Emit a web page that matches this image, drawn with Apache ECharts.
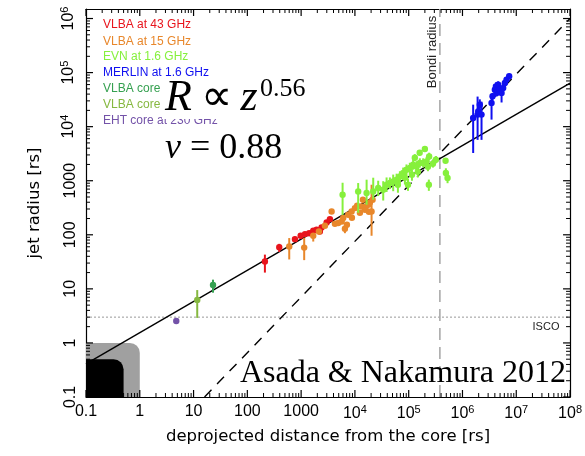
<!DOCTYPE html>
<html>
<head>
<meta charset="utf-8">
<script src="https://cdn.jsdelivr.net/npm/echarts@6/dist/echarts.min.js"></script>
<style>
html, body { margin: 0; padding: 0; background: #fff; }
#chart { width: 585px; height: 456px; }
</style>
</head>
<body>
<div id="chart"></div>
<script>
// each point: [distance from core, jet radius, radius low, radius high], all in rs
const vlba43 = [
  [212, 32, 20, 43], [392, 59, 48, 68], [767, 83, 75, 92], [980, 96, 88, 104],
  [1180, 103, 95, 112], [1410, 107, 99, 116], [1680, 119, 110, 128], [1940, 124, 115, 134],
  [2230, 115, 106, 125], [2400, 136, 125, 148], [2980, 169, 155, 184], [3430, 195, 180, 212]
]
const vlba15 = [
  [601, 61, 35, 87], [1140, 58, 34, 88], [1680, 96, 75, 105], [2140, 115, 105, 126],
  [2770, 147, 134, 160], [3690, 270, 250, 292], [4250, 160, 146, 175], [4900, 165, 150, 181],
  [5670, 176, 160, 193], [6520, 129, 107, 153], [6060, 204, 186, 224], [7100, 153, 140, 168],
  [7500, 235, 214, 258], [8680, 270, 246, 296], [8800, 207, 190, 226], [10000, 312, 284, 342],
  [11000, 344, 313, 377], [12400, 255, 232, 280], [13300, 334, 304, 366], [14100, 445, 405, 488],
  [15400, 290, 264, 318], [16000, 334, 304, 366], [17700, 360, 328, 395], [18200, 267, 243, 293],
  [19000, 396, 360, 434], [21300, 445, 405, 488], [20400, 270, 96, 843]
]
const evn = [
  [5900, 551, 234, 918], [11500, 634, 255, 906], [16500, 592, 360, 1045], [21900, 634, 445, 1137],
  [27100, 732, 520, 1000], [33600, 681, 430, 980], [38800, 843, 620, 1150], [44700, 906, 700, 1150],
  [51500, 971, 640, 1300], [59600, 1040, 760, 1350], [63000, 843, 600, 1100], [68600, 1200, 900, 1500],
  [79000, 1390, 1050, 1750], [85000, 1140, 850, 1450], [91000, 1600, 1250, 2000], [97000, 843, 650, 1100],
  [105000, 1720, 1350, 2150], [115000, 1290, 1000, 1600], [121000, 1980, 1600, 2450], [130000, 2670, 2300, 3100],
  [140000, 1840, 1450, 2300], [148000, 1470, 1150, 1850], [160000, 3300, 2900, 3700], [161000, 2130, 1750, 2600],
  [186000, 2130, 1750, 2600], [200000, 3860, 3500, 4200], [215000, 2280, 1900, 2750], [228000, 1820, 1500, 2200],
  [237000, 843, 650, 1050], [240000, 2820, 2400, 3300], [282000, 2070, 1750, 2450], [320000, 2450, 2100, 2850],
  [485000, 2340, 2100, 2600], [491000, 1390, 1150, 1700], [528000, 1120, 900, 1400]
]
const merlin = [
  [1.58e6, 1.45e4, 3260, 2.55e4], [1.91e6, 1.67e4, 5700, 3.6e4], [1.96e6, 1.92e4, 1.5e4, 2.4e4],
  [2.1e6, 2.55e4, 1.9e4, 3.2e4], [2.26e6, 1.67e4, 5700, 2.9e4], [3.47e6, 2.75e4, 1.35e4, 3.9e4],
  [3.62e6, 3.64e4, 3.1e4, 4.2e4], [4.0e6, 4.84e4, 4.2e4, 5.6e4], [4.18e6, 5.57e4, 4.6e4, 6.6e4],
  [4.3e6, 4.21e4, 3.6e4, 4.9e4], [4.61e6, 6.0e4, 5.2e4, 6.9e4], [4.96e6, 4.84e4, 4.1e4, 5.7e4],
  [5.33e6, 4.21e4, 2.8e4, 5.0e4], [5.71e6, 5.21e4, 4.5e4, 6.0e4], [6.14e6, 6.44e4, 5.6e4, 7.3e4],
  [6.6e6, 7.42e4, 6.6e4, 8.3e4], [7.38e6, 8.54e4, 7.7e4, 9.5e4]
]
const vlbaCore23 = [[23, 11.8, 8.5, 14.8]]
const vlbaCore43 = [[11.7, 6.25, 2.9, 9.5]]
const ehtCore = [[4.77, 2.55, 2.55, 2.55]]

const xRange = [0.1, 1e8]
const yRange = [0.1, 1.5e6]
const xTicks = [0.1, 1, 10, 100, 1000, 1e4, 1e5, 1e6, 1e7, 1e8]
const yTicks = [0.1, 1, 10, 100, 1000, 1e4, 1e5, 1e6]
const fitLine = [[0.1, 0.41], [1e8, 6.4e4]]       // R ~ z^0.56
const conicalLine = [[16, 0.1], [1e8, 1e6]]       // R ~ z
const bondiRadius = 3.8e5
const iscoRadius = 3
const eventBox = [[0.1, 0.1, 0.5, 0.5]]
const ergoBox = [[0.1, 0.1, 1, 1]]

const groups = [
  { name: 'VLBA at 43 GHz', color: '#e8141c', data: vlba43 },
  { name: 'VLBA at 15 GHz', color: '#e8872b', data: vlba15 },
  { name: 'EVN at 1.6 GHz', color: '#86f03c', data: evn },
  { name: 'MERLIN at 1.6 GHz', color: '#1010f0', data: merlin },
  { name: 'VLBA core at 2.3 GHz', color: '#35a050', data: vlbaCore23 },
  { name: 'VLBA core at 43 GHz', color: '#86b840', data: vlbaCore43 },
  { name: 'EHT core at 230 GHz', color: '#7352a8', data: ehtCore }
]

const lg = Math.log10
const SANS = '"Liberation Sans", Arial, sans-serif'
const WIDE = '"DejaVu Sans", sans-serif'
const SERIF = '"Liberation Serif", "Times New Roman", serif'

// tick positions in log space: [value, tick length]
function tickList (ticks) {
  const out = []
  ticks.forEach((t, i) => {
    const d = lg(t)
    out.push([d, 7])
    if (i < ticks.length - 1) {
      for (let k = 2; k <= 9; k++) out.push([d + lg(k), 4])
    }
  })
  return out
}

function tickLabel (v) {
  if (Math.abs(v - Math.round(v)) > 1e-6) return ''
  const e = Math.round(v)
  if (e === -1) return '0.1'
  if (e <= 3) return String(Math.pow(10, e))
  return '{n|10}{s|' + e + '}'
}

const labelRich = {
  n: { fontSize: 16, fontFamily: SANS, color: '#000' },
  s: { fontSize: 11, fontFamily: SANS, color: '#000', padding: [0, 0, 9, 0] }
}

function axis (dim, pos, lo, hi, showLabel) {
  return {
    type: 'value', position: pos, min: lg(lo), max: lg(hi), interval: 1,
    axisLine: { show: true, onZero: false, lineStyle: { color: '#000', width: 1.2 } },
    axisTick: { show: false },
    axisLabel: {
      show: showLabel, formatter: tickLabel, showMaxLabel: dim === 'x',
      fontSize: 16, fontFamily: SANS, color: '#000', margin: 7, rich: labelRich,
      rotate: dim === 'y' ? 90 : 0
    },
    splitLine: { show: false }
  }
}

const xAxes = [axis('x', 'bottom', xRange[0], xRange[1], true), axis('x', 'top', xRange[0], xRange[1], false)]
xAxes[0].name = 'deprojected distance from the core [rs]'
xAxes[0].nameLocation = 'middle'
xAxes[0].nameGap = 31
xAxes[0].nameTextStyle = { fontSize: 16.5, fontFamily: WIDE, color: '#000' }

const yAxes = [axis('y', 'left', yRange[0], yRange[1], true), axis('y', 'right', yRange[0], yRange[1], false)]
yAxes[0].name = 'jet radius [rs]'
yAxes[0].nameLocation = 'middle'
yAxes[0].nameGap = 43
yAxes[0].nameTextStyle = { fontSize: 16.5, fontFamily: WIDE, color: '#000' }

function toLog (rows) {
  return rows.map(r => r.map(lg))
}

// inward ticks on both opposite sides of the box
function tickSeries (dim) {
  return {
    type: 'custom', z: 5, silent: true, clip: false,
    data: tickList(dim === 'x' ? xTicks : yTicks),
    renderItem (params, api) {
      const v = api.value(0)
      const len = api.value(1)
      if (dim === 'x') {
        const a = api.coord([v, lg(yRange[0])])
        const b = api.coord([v, lg(yRange[1])])
        return {
          type: 'group',
          children: [
            { type: 'line', shape: { x1: a[0], y1: a[1], x2: a[0], y2: a[1] - len }, style: { stroke: '#000', lineWidth: len > 5 ? 1.2 : 1 } },
            { type: 'line', shape: { x1: b[0], y1: b[1], x2: b[0], y2: b[1] + len }, style: { stroke: '#000', lineWidth: len > 5 ? 1.2 : 1 } }
          ]
        }
      }
      const a = api.coord([lg(xRange[0]), v])
      const b = api.coord([lg(xRange[1]), v])
      return {
        type: 'group',
        children: [
          { type: 'line', shape: { x1: a[0], y1: a[1], x2: a[0] + len, y2: a[1] }, style: { stroke: '#000', lineWidth: len > 5 ? 1.2 : 1 } },
          { type: 'line', shape: { x1: b[0], y1: b[1], x2: b[0] - len, y2: b[1] }, style: { stroke: '#000', lineWidth: len > 5 ? 1.2 : 1 } }
        ]
      }
    }
  }
}

function boxSeries (rows, color, z) {
  return {
    type: 'custom', z: z, silent: true,
    data: toLog(rows),
    renderItem (params, api) {
      const a = api.coord([api.value(0), api.value(1)])
      const b = api.coord([api.value(2), api.value(3)])
      return {
        type: 'rect',
        shape: { x: a[0], y: b[1], width: b[0] - a[0], height: a[1] - b[1], r: [0, 10, 0, 0] },
        style: { fill: color }
      }
    }
  }
}

function pointSeries (g) {
  return {
    type: 'custom', name: g.name, z: 6, silent: true,
    data: toLog(g.data),
    renderItem (params, api) {
      const p = api.coord([api.value(0), api.value(1)])
      const lo = api.coord([api.value(0), api.value(2)])
      const hi = api.coord([api.value(0), api.value(3)])
      return {
        type: 'group',
        children: [
          { type: 'line', shape: { x1: lo[0], y1: lo[1], x2: hi[0], y2: hi[1] }, style: { stroke: g.color, lineWidth: 2 } },
          { type: 'circle', shape: { cx: p[0], cy: p[1], r: 3.2 }, style: { fill: g.color } }
        ]
      }
    }
  }
}

function lineSeries (pts, color, type, width, z) {
  return {
    type: 'line', z: z, silent: true, symbol: 'none',
    data: toLog(pts),
    lineStyle: { color: color, type: type, width: width }
  }
}

const series = [
  boxSeries(ergoBox, '#a0a0a0', 1),
  lineSeries([[xRange[0], iscoRadius], [xRange[1], iscoRadius]], '#999', [2, 2], 1, 2),
  lineSeries([[bondiRadius, yRange[0]], [bondiRadius, yRange[1]]], '#aaa', [12, 7], 1.6, 2),
  lineSeries(fitLine, '#000', 'solid', 1.4, 3),
  lineSeries(conicalLine, '#000', [10, 8], 1.4, 3),
  boxSeries(eventBox, '#000', 4),
  tickSeries('x'),
  tickSeries('y')
].concat(groups.map(pointSeries))

const legendTexts = groups.map((g, i) => ({
  type: 'text', x: 103, y: [25, 42, 57, 73, 89, 105, 121][i], z: 10,
  style: { text: g.name, fill: g.color, font: '12px ' + SANS, align: 'left', verticalAlign: 'middle' }
}))

const chart = echarts.init(document.getElementById('chart'))
chart.setOption({
  animation: false,
  backgroundColor: '#fff',
  grid: { left: 86, right: 13, top: 9, bottom: 59 },
  xAxis: xAxes,
  yAxis: yAxes,
  series: series,
  graphic: legendTexts.concat([
    { type: 'rect', shape: { x: 162, y: 80, width: 150, height: 39 }, style: { fill: '#fff' }, z: 11 },
    {
      type: 'text', x: 165, y: 120, z: 12,
      style: {
        text: '{i|R}{o|\u2009∝\u2009}{i|z}',
        verticalAlign: 'bottom', align: 'left',
        rich: {
          i: { fontSize: 44, fontStyle: 'italic', fontFamily: SERIF, fill: '#000' },
          o: { fontSize: 44, fontFamily: SERIF, fill: '#000' }
        }
      }
    },
    { type: 'text', x: 260, y: 76, z: 12, style: { text: '0.56', font: '26px ' + SERIF, fill: '#000', align: 'left', verticalAlign: 'top' } },
    {
      type: 'text', x: 165, y: 167, z: 12,
      style: {
        text: '{i|ν}{o| = 0.88}',
        verticalAlign: 'bottom', align: 'left',
        rich: {
          i: { fontSize: 36, fontStyle: 'italic', fontFamily: SERIF, fill: '#000' },
          o: { fontSize: 36, fontFamily: SERIF, fill: '#000' }
        }
      }
    },
    { type: 'text', x: 432, y: 52, rotation: Math.PI / 2, z: 10, style: { text: 'Bondi radius', font: '13px ' + SANS, fill: '#222', align: 'center', verticalAlign: 'middle' } },
    { type: 'text', x: 546, y: 327, z: 10, style: { text: 'ISCO', font: '11px ' + SANS, fill: '#222', align: 'center', verticalAlign: 'middle' } },
    { type: 'text', x: 566, y: 390, z: 12, style: { text: 'Asada & Nakamura 2012', font: '32px ' + SERIF, fill: '#000', align: 'right', verticalAlign: 'bottom' } }
  ])
})
</script>
</body>
</html>
